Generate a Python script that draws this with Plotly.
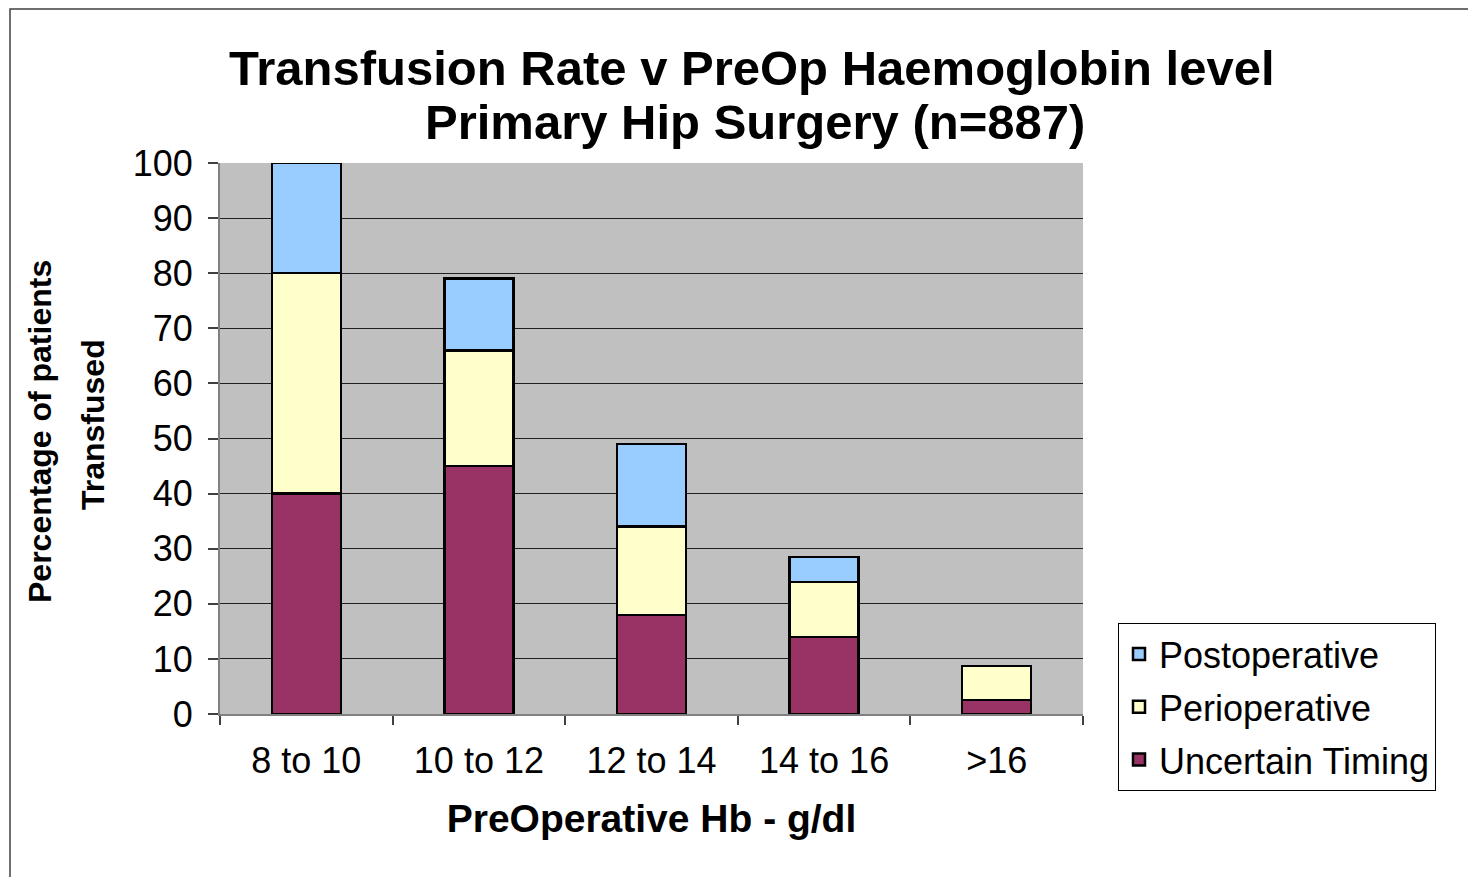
import plotly.graph_objects as go

categories = ["8 to 10", "10 to 12", "12 to 14", "14 to 16", ">16"]
uncertain = [40, 45, 18, 14, 2.5]
perioperative = [40, 21, 16, 10, 6.2]
postoperative = [20, 13, 15, 4.5, 0]

FONT = "Liberation Sans, Arial, sans-serif"

fig = go.Figure()
series = [
    ("Uncertain Timing", uncertain, "#993366", 3),
    ("Perioperative", perioperative, "#FFFFCC", 2),
    ("Postoperative", postoperative, "#99CCFF", 1),
]
for name, vals, col, rank in series:
    fig.add_trace(go.Bar(
        x=categories, y=vals, name=name, legendgroup=name, legendrank=rank,
        marker=dict(color=col, line=dict(color="black", width=2.5)),
        width=0.4,
    ))

# page is offset 8px by the browser body margin
W, H = 1468, 869
fig.update_layout(
    width=W, height=H,
    barmode="stack",
    paper_bgcolor="white",
    plot_bgcolor="#C0C0C0",
    margin=dict(l=212, r=W - 1075, t=155, b=H - 706),
    font=dict(family=FONT, color="black"),
    showlegend=True,
    legend=dict(
        x=(1118 - 220) / 863, xanchor="left", y=(714 - 623) / 551, yanchor="top",
        traceorder="grouped", tracegroupgap=3,
        entrywidth=330, entrywidthmode="pixels",
        bgcolor="white", bordercolor="black", borderwidth=1,
        font=dict(size=36, family=FONT, color="black"),
    ),
)

fig.update_xaxes(
    type="category",
    tickson="boundaries", ticks="outside", ticklen=9, tickcolor="#404040", tickwidth=1.5,
    showline=True, linecolor="#808080", linewidth=2,
    showgrid=False,
    ticklabelstandoff=14,
    tickfont=dict(size=36, family=FONT, color="black"),
    title=dict(text="<b>PreOperative Hb - g/dl</b>", font=dict(size=39, family=FONT, color="black"), standoff=24),
)
fig.update_yaxes(
    range=[0, 100], dtick=10, tick0=0,
    ticks="outside", ticklen=10, tickcolor="#404040", tickwidth=1.5,
    showline=True, linecolor="#808080", linewidth=2,
    showgrid=True, gridcolor="#202020", gridwidth=1,
    zeroline=False,
    ticklabelstandoff=8,
    tickfont=dict(size=36, family=FONT, color="black"),
)

def px(x):
    return (x - 220) / 863

def py(y):
    return (714 - y) / 551

# title lines
fig.add_annotation(text="<b>Transfusion Rate v PreOp Haemoglobin level</b>",
                   x=px(752), y=py(68), xref="paper", yref="paper", xanchor="center", yanchor="middle",
                   showarrow=False, font=dict(size=49, family=FONT, color="black"))
fig.add_annotation(text="<b>Primary Hip Surgery (n=887)</b>",
                   x=px(755), y=py(122), xref="paper", yref="paper", xanchor="center", yanchor="middle",
                   showarrow=False, font=dict(size=49, family=FONT, color="black"))

# y axis title as two lines
fig.add_annotation(text="<b>Percentage of patients</b>", textangle=-90,
                   x=px(40), y=py(432), xref="paper", yref="paper", xanchor="center", yanchor="middle",
                   showarrow=False, font=dict(size=32, family=FONT, color="black"))
fig.add_annotation(text="<b>Transfused</b>", textangle=-90,
                   x=px(93), y=py(425), xref="paper", yref="paper", xanchor="center", yanchor="middle",
                   showarrow=False, font=dict(size=32, family=FONT, color="black"))

# outer frame
fig.add_shape(type="rect", xref="paper", yref="paper",
              x0=px(10), x1=px(1500), y0=py(900), y1=py(9),
              line=dict(color="#404040", width=1.5), fillcolor="rgba(0,0,0,0)", layer="below")

fig.write_html("out.html")
